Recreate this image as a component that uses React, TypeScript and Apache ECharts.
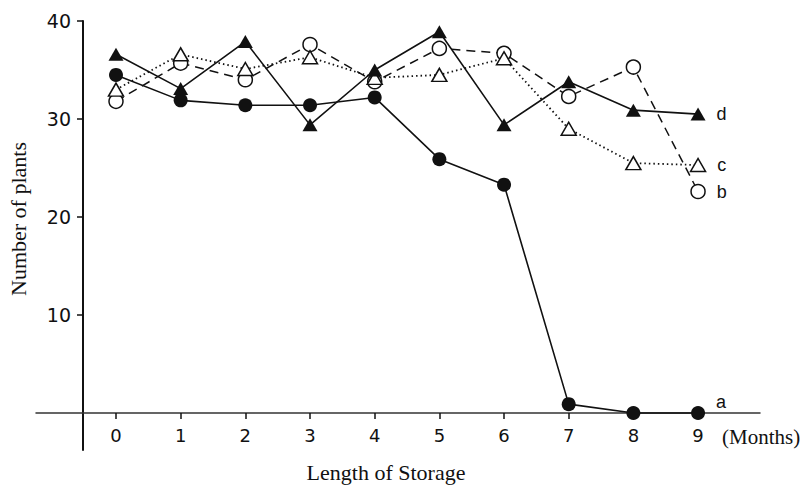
import React, { useEffect, useRef } from "react";
import * as echarts from "echarts";

const months = [0, 1, 2, 3, 4, 5, 6, 7, 8, 9];
const seriesA = [34.5, 31.9, 31.4, 31.4, 32.2, 25.9, 23.3, 0.9, 0, 0];
const seriesB = [31.8, 35.7, 34.0, 37.6, 33.8, 37.2, 36.7, 32.3, 35.3, 22.6];
const seriesC = [33.0, 36.6, 35.1, 36.3, 34.2, 34.5, 36.2, 29.0, 25.5, 25.3];
const seriesD = [36.6, 33.1, 37.9, 29.4, 35.0, 38.9, 29.4, 33.8, 30.9, 30.5];
const yTicks = [10, 20, 30, 40];
const seriesNames = ["a", "b", "c", "d"];

const INK = "#111";

function toData(vals: number[], name: string, offset: number[]) {
  return vals.map((v, i) => {
    if (i === vals.length - 1) {
      return {
        value: [months[i], v],
        label: {
          show: true,
          position: "right",
          distance: 11,
          offset,
          formatter: name,
          color: INK,
          fontFamily: "Liberation Sans",
          fontSize: 18,
        },
      };
    }
    return { value: [months[i], v] };
  });
}

export default function App() {
  const ref = useRef<HTMLDivElement>(null);
  useEffect(() => {
    if (!ref.current) return;
    const chart = echarts.init(ref.current, null, { renderer: "svg" });
    chart.setOption({
      animation: false,
      backgroundColor: "#fff",
      grid: { left: 36, right: 44, top: 21, bottom: 37, outerBoundsMode: "none", containLabel: false },
      xAxis: {
        type: "value",
        min: -1.237,
        max: 9.958,
        offset: -37,
        axisLine: { onZero: false, lineStyle: { color: "#333", width: 1.5 } },
        axisTick: { customValues: months, length: 6, lineStyle: { color: INK, width: 1.5 } },
        axisLabel: {
          customValues: months,
          margin: 13,
          color: INK,
          fontFamily: "DejaVu Sans",
          fontSize: 18,
        },
        splitLine: { show: false },
      },
      yAxis: {
        type: "value",
        min: -3.78,
        max: 40,
        offset: -47,
        axisLine: { show: true, onZero: false, lineStyle: { color: INK, width: 2 } },
        axisTick: { customValues: yTicks, length: 6, lineStyle: { color: INK, width: 1.5 } },
        axisLabel: {
          customValues: yTicks,
          margin: 12,
          color: INK,
          fontFamily: "DejaVu Sans",
          fontSize: 19,
        },
        splitLine: { show: false },
      },
      graphic: [
        {
          type: "text",
          x: 18,
          y: 219,
          rotation: Math.PI / 2,
          style: {
            text: "Number of plants",
            fill: INK,
            font: "22px 'Liberation Serif'",
            textAlign: "center",
            textVerticalAlign: "middle",
          },
        },
        {
          type: "text",
          x: 386,
          y: 472,
          style: {
            text: "Length of Storage",
            fill: INK,
            font: "22px 'Liberation Serif'",
            textAlign: "center",
            textVerticalAlign: "middle",
          },
        },
        {
          type: "text",
          x: 722,
          y: 437,
          style: {
            text: "(Months)",
            fill: INK,
            font: "21px 'Liberation Serif'",
            textAlign: "left",
            textVerticalAlign: "middle",
          },
        },
      ],
      series: [
        {
          name: seriesNames[0],
          type: "line",
          data: toData(seriesA, seriesNames[0], [0, -11]),
          symbol: "circle",
          symbolSize: 14,
          itemStyle: { color: INK },
          lineStyle: { color: INK, width: 1.6, type: "solid" },
          z: 4,
        },
        {
          name: seriesNames[1],
          type: "line",
          data: toData(seriesB, seriesNames[1], [0, 0]),
          symbol: "circle",
          symbolSize: 14,
          itemStyle: { color: "#fff", borderColor: INK, borderWidth: 1.5 },
          lineStyle: { color: INK, width: 1.5, type: [9, 6] },
          z: 3,
        },
        {
          name: seriesNames[2],
          type: "line",
          data: toData(seriesC, seriesNames[2], [0, 0]),
          symbol: "triangle",
          symbolSize: [15, 13],
          itemStyle: { color: "#fff", borderColor: INK, borderWidth: 1.5 },
          lineStyle: { color: INK, width: 1.8, type: [1.5, 3] },
          z: 3,
        },
        {
          name: seriesNames[3],
          type: "line",
          data: toData(seriesD, seriesNames[3], [0, 0]),
          symbol: "triangle",
          symbolSize: [15, 13],
          itemStyle: { color: INK },
          lineStyle: { color: INK, width: 1.6, type: "solid" },
          z: 4,
        },
      ],
    });
    return () => chart.dispose();
  }, []);
  return (
    <div
      ref={ref}
      style={{ position: "fixed", left: 0, top: 0, width: 804, height: 487, background: "#fff" }}
    />
  );
}
